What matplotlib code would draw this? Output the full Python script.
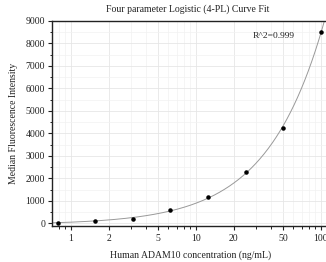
import numpy as np
import matplotlib
matplotlib.use("Agg")
import matplotlib.pyplot as plt
from matplotlib.ticker import FixedLocator, NullFormatter, MultipleLocator, LogLocator

conc = [100, 50, 25, 12.5, 6.25, 3.125, 1.5625, 0.78125]
mfi = [8500, 4250, 2300, 1150, 580, 210, 100, 20]
xtick_vals = [1, 2, 5, 10, 20, 50, 100]
xtick_labels = ["1", "2", "5", "10", "20", "50", "100"]
title = "Four parameter Logistic (4-PL) Curve Fit"
r2_text = "R^2=0.999"

x = np.array(conc, float)
y = np.array(mfi, float)


def f4pl(p, xx):
    a, d, logc, b = p
    return d + (a - d) / (1.0 + (xx / np.exp(logc)) ** b)


# simple Levenberg-Marquardt fit
p = np.array([10.0, 60000.0, np.log(500.0), 1.1])
lam = 1e-3
for _ in range(300):
    r = y - f4pl(p, x)
    J = np.zeros((len(x), 4))
    for k in range(4):
        dp = np.zeros(4)
        h = 1e-6 * max(1.0, abs(p[k]))
        dp[k] = h
        J[:, k] = (f4pl(p + dp, x) - f4pl(p - dp, x)) / (2 * h)
    A = J.T @ J
    g = J.T @ r
    step = np.linalg.solve(A + lam * np.diag(np.diag(A)), g)
    pn = p + step
    if np.all(np.isfinite(pn)) and np.sum((y - f4pl(pn, x)) ** 2) < np.sum(r ** 2):
        p = pn
        lam *= 0.3
    else:
        lam *= 10
plt.rcParams['font.family'] = ['Liberation Serif', 'DejaVu Serif']

fig = plt.figure(figsize=(3.26, 2.62), dpi=100)
W, H = 326, 262
left, right, top, bottom = 52, 329, 21, 226
ax = fig.add_axes([left / W, 1 - bottom / H, (right - left) / W, (bottom - top) / H])

xs = np.logspace(np.log10(0.7), np.log10(130), 400)
ax.plot(xs, f4pl(p, xs), color="#999999", lw=0.7, zorder=2)
ax.scatter(x, y, s=5, color="black", zorder=3)

ax.set_xscale("log")
ax.set_xlim(0.705, 116)
ax.set_ylim(-120, 9000)
ax.xaxis.set_major_locator(FixedLocator(xtick_vals))
ax.set_xticklabels(xtick_labels)
ax.xaxis.set_minor_locator(LogLocator(base=10, subs=np.arange(2, 10)))
ax.xaxis.set_minor_formatter(NullFormatter())
ax.yaxis.set_major_locator(MultipleLocator(1000))
ax.yaxis.set_minor_locator(MultipleLocator(500))

ax.grid(True, which="major", color="#e6e6e6", lw=0.6)
ax.grid(True, which="minor", color="#f2f2f2", lw=0.5)
ax.set_axisbelow(True)

for s in ["left", "bottom", "top"]:
    ax.spines[s].set_linewidth(1.0)
    ax.spines[s].set_color("#222222")
ax.spines["right"].set_visible(False)

ax.tick_params(axis="both", which="major", direction="out", length=3, width=0.8,
               labelsize=7, pad=2, colors="#222222")
ax.tick_params(axis="both", which="minor", direction="out", length=1.8, width=0.6)
ax.tick_params(axis="x", which="major", pad=3)

ax.set_xlabel("Human ADAM10 concentration (ng/mL)", fontsize=7, labelpad=5, color="#222222")
ax.set_ylabel("Median Fluorescence Intensity", fontsize=7, labelpad=5, color="#222222")
fig.text(188 / W, 1 - 9 / H, title, ha="center", va="center", fontsize=7, color="#222222")
ax.text(62, 8330, r2_text, ha="right", va="center", fontsize=6.8, color="#222222")

fig.savefig("out.png", dpi=100)
